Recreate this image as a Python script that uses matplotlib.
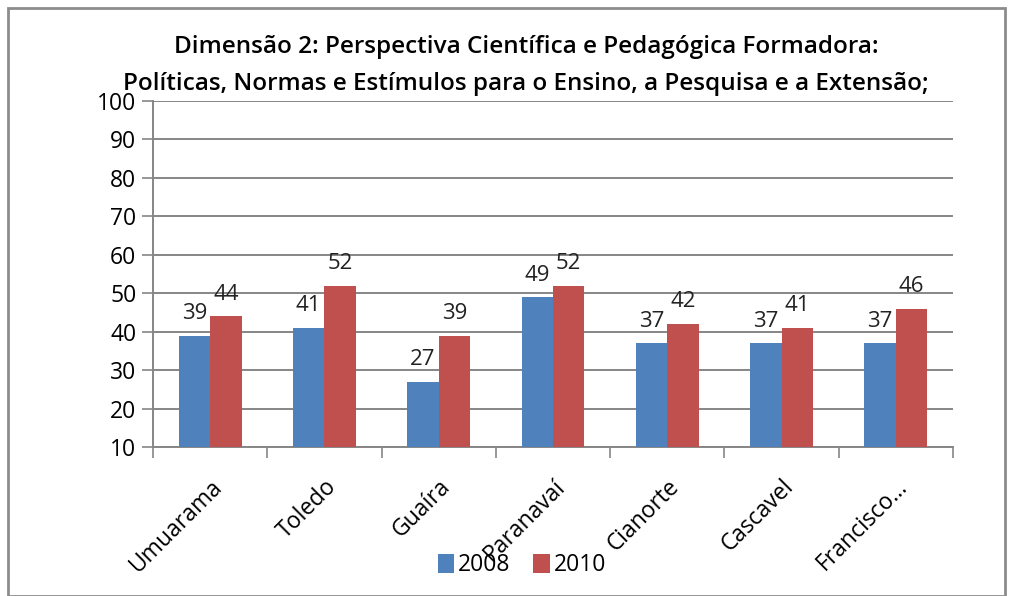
import numpy as np
import matplotlib.pyplot as plt
from matplotlib.patches import Rectangle

cidades = ['Umuarama', 'Toledo', 'Guaíra', 'Paranavaí', 'Cianorte', 'Cascavel', 'Francisco...']
v2008 = [39, 41, 27, 49, 37, 37, 37]
v2010 = [44, 52, 39, 52, 42, 41, 46]
anos = ['2008', '2010']

plt.rcParams['font.family'] = ['Open Sans', 'DejaVu Sans']

fig = plt.figure(figsize=(10.09, 5.96), dpi=100)
fig.patches.append(Rectangle((8/1009, 0), 997/1009, 588/596, transform=fig.transFigure,
                             fill=False, edgecolor='#8c8c8c', linewidth=2))

ax = fig.add_axes([153/1009, 1 - 447/596, 800/1009, 346/596])

x = np.arange(len(cidades))
w = 0.275
b1 = ax.bar(x - w/2, v2008, w, color='#4F81BD', label=anos[0], zorder=3)
b2 = ax.bar(x + w/2, v2010, w, color='#C0504D', label=anos[1], zorder=3)

for rects, vals in ((b1, v2008), (b2, v2010)):
    for r, v in zip(rects, vals):
        ax.text(r.get_x() + r.get_width()/2, v + 3.0, str(v), ha='center', va='bottom',
                fontsize=16, color='#222222')

ax.set_ylim(10, 100)
ax.set_yticks(range(10, 101, 10))
ax.set_xlim(-0.5, len(cidades) - 0.5)
ax.yaxis.grid(True, color='#868686', linewidth=1.4, zorder=0)
ax.set_axisbelow(True)

ax.set_xticks(np.arange(len(cidades) + 1) - 0.5)
ax.set_xticklabels([])
ax.set_xticks(x, minor=True)
ax.set_xticklabels(cidades, minor=True, rotation=45, ha='right', rotation_mode='anchor',
                   fontsize=16.5)
ax.tick_params(axis='x', which='minor', length=0, pad=20)
ax.tick_params(axis='x', which='major', length=8, color='#868686', width=1.2)
ax.tick_params(axis='y', length=8, color='#868686', width=1.2, labelsize=16.5, pad=4)

for s in ['top', 'right']:
    ax.spines[s].set_visible(False)
for s in ['left', 'bottom']:
    ax.spines[s].set_color('#868686')
    ax.spines[s].set_linewidth(1.4)

fig.text(526/1009, 1 - 47/596, 'Dimensão 2: Perspectiva Científica e Pedagógica Formadora:',
         ha='center', va='center', fontsize=17.5, fontweight='semibold')
fig.text(526/1009, 1 - 84/596, 'Políticas, Normas e Estímulos para o Ensino, a Pesquisa e a Extensão;',
         ha='center', va='center', fontsize=17.5, fontweight='semibold')

fig.legend(handles=[b1, b2], labels=anos, loc='center', bbox_to_anchor=(522/1009, 1 - 565/596),
           ncol=2, frameon=False, fontsize=16.5, handlelength=0.7, handleheight=0.9,
           handletextpad=0.2, columnspacing=1.0)

fig.savefig('out.png', dpi=100)
